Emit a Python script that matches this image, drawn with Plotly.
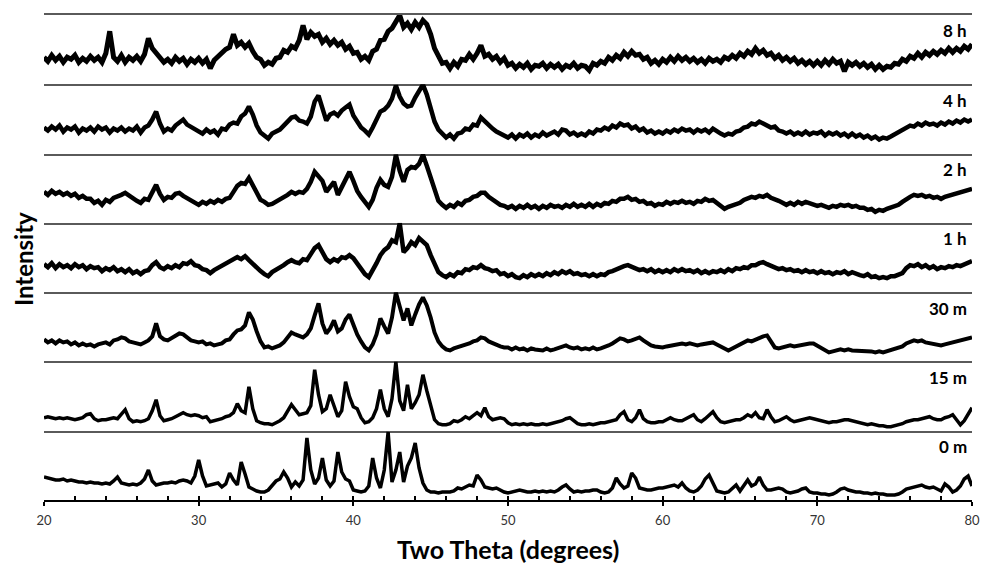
import plotly.graph_objects as go
from plotly.subplots import make_subplots

# x grid: 2-theta in degrees, 0.25 deg step from 20 to 80
two_theta = [20 + 0.25 * k for k in range(241)]

# intensities (arbitrary units, each panel 0..69.3)
i_8h = [27, 23, 29, 24, 28, 22, 27, 25, 29, 22, 26, 23, 28, 24, 27, 22, 31, 53, 27, 23,
        29, 22, 27, 24, 28, 23, 30, 46, 36, 31, 26, 22, 25, 21, 27, 23, 26, 20, 25, 22,
        26, 21, 25, 16, 24, 28, 31, 35, 37, 50, 39, 42, 37, 41, 33, 27, 25, 19, 22, 20,
        26, 27, 34, 32, 38, 36, 44, 59, 45, 52, 48, 50, 42, 46, 40, 44, 39, 42, 35, 38,
        31, 32, 25, 28, 24, 33, 35, 44, 45, 53, 56, 63, 69, 57, 61, 55, 62, 57, 64, 60,
        50, 36, 29, 21, 22, 16, 22, 18, 25, 24, 30, 25, 31, 39, 28, 30, 25, 28, 22, 26,
        19, 21, 16, 20, 17, 21, 15, 19, 18, 21, 16, 20, 17, 20, 15, 19, 17, 21, 16, 19,
        18, 14, 21, 19, 23, 21, 27, 24, 29, 26, 32, 28, 33, 29, 30, 25, 27, 21, 24, 20,
        25, 22, 27, 23, 28, 24, 27, 23, 26, 22, 25, 21, 26, 23, 25, 22, 27, 25, 29, 26,
        31, 28, 33, 30, 36, 31, 34, 29, 31, 26, 29, 24, 27, 23, 26, 21, 24, 20, 23, 19,
        23, 19, 24, 20, 25, 21, 23, 13, 22, 19, 22, 18, 21, 17, 20, 15, 19, 15, 18, 17,
        21, 20, 25, 23, 28, 26, 31, 27, 32, 29, 33, 30, 34, 31, 36, 32, 36, 33, 38, 35,
        40]

i_4h = [26, 23, 27, 24, 28, 22, 26, 24, 27, 21, 25, 23, 26, 22, 27, 24, 26, 21, 25, 23,
        26, 22, 25, 23, 27, 21, 26, 28, 34, 42, 30, 22, 25, 23, 28, 31, 34, 29, 27, 24,
        23, 20, 24, 21, 23, 19, 25, 24, 29, 31, 30, 37, 40, 47, 39, 28, 21, 18, 15, 20,
        22, 24, 28, 32, 36, 37, 33, 32, 30, 37, 52, 58, 45, 33, 39, 41, 38, 43, 46, 49,
        38, 31, 26, 23, 19, 26, 33, 42, 44, 48, 55, 68, 57, 50, 47, 48, 56, 63, 69, 59,
        44, 32, 24, 20, 16, 19, 15, 20, 21, 25, 24, 29, 28, 36, 32, 28, 25, 22, 20, 18,
        16, 19, 15, 19, 17, 20, 16, 19, 17, 21, 18, 20, 22, 19, 24, 23, 19, 21, 18, 20,
        18, 22, 20, 24, 23, 26, 24, 28, 26, 30, 28, 29, 25, 27, 23, 25, 21, 23, 20, 22,
        20, 23, 21, 24, 22, 25, 23, 24, 21, 24, 22, 24, 21, 25, 22, 20, 18, 20, 19, 22,
        23, 26, 27, 30, 29, 32, 30, 28, 26, 27, 23, 22, 20, 22, 19, 21, 19, 22, 19, 21,
        20, 22, 18, 21, 19, 21, 18, 20, 17, 20, 17, 19, 16, 18, 15, 17, 14, 16, 15, 17,
        19, 21, 24, 26, 28, 27, 30, 28, 31, 29, 30, 28, 31, 29, 32, 30, 33, 31, 34, 32,
        34]

i_2h = [31, 28, 32, 29, 31, 28, 30, 27, 29, 25, 27, 24, 24, 20, 22, 18, 23, 21, 25, 26,
        28, 30, 27, 25, 22, 20, 24, 23, 31, 38, 29, 23, 26, 25, 29, 30, 27, 25, 22, 20,
        18, 21, 19, 22, 20, 23, 21, 24, 25, 31, 37, 40, 39, 45, 38, 29, 23, 21, 18, 19,
        21, 23, 26, 28, 31, 29, 31, 30, 34, 41, 51, 47, 42, 31, 36, 41, 28, 36, 45, 51,
        42, 32, 26, 20, 16, 23, 35, 43, 38, 36, 46, 68, 52, 41, 53, 56, 55, 59, 68, 57,
        46, 32, 22, 18, 15, 18, 16, 20, 18, 22, 23, 26, 27, 30, 30, 26, 23, 21, 18, 17,
        15, 17, 14, 17, 15, 18, 15, 17, 14, 17, 15, 18, 16, 17, 15, 18, 16, 19, 16, 18,
        16, 19, 16, 19, 17, 20, 19, 22, 21, 24, 24, 26, 23, 24, 21, 22, 19, 20, 17, 19,
        18, 21, 19, 21, 20, 22, 20, 21, 19, 22, 21, 24, 22, 23, 20, 18, 14, 16, 17, 19,
        20, 23, 25, 26, 25, 27, 26, 28, 25, 24, 22, 20, 18, 20, 18, 21, 19, 21, 20, 19,
        17, 18, 16, 15, 17, 16, 18, 17, 18, 16, 17, 15, 15, 13, 14, 11, 13, 12, 14, 15,
        16, 18, 21, 24, 26, 28, 27, 28, 26, 27, 25, 26, 24, 26, 27, 28, 29, 30, 31, 33,
        34]

i_1h = [28, 25, 29, 24, 28, 25, 27, 24, 28, 25, 27, 23, 26, 24, 25, 21, 24, 22, 25, 21,
        23, 20, 23, 19, 21, 18, 21, 22, 27, 30, 25, 23, 26, 24, 27, 25, 29, 28, 31, 27,
        26, 23, 22, 19, 22, 24, 26, 28, 30, 32, 35, 33, 36, 32, 28, 24, 21, 18, 16, 20,
        22, 25, 27, 30, 32, 30, 29, 33, 32, 38, 44, 47, 41, 33, 30, 33, 31, 35, 34, 37,
        34, 28, 23, 18, 15, 21, 29, 37, 42, 45, 52, 50, 69, 40, 44, 50, 47, 54, 51, 47,
        37, 27, 20, 17, 15, 18, 16, 20, 19, 23, 22, 25, 24, 27, 24, 23, 21, 22, 18, 19,
        16, 18, 15, 14, 17, 15, 18, 16, 18, 16, 19, 17, 20, 18, 21, 19, 21, 18, 19, 17,
        18, 16, 18, 16, 18, 17, 20, 21, 23, 24, 26, 27, 25, 24, 22, 23, 21, 23, 20, 22,
        20, 22, 20, 23, 21, 23, 21, 22, 20, 22, 19, 21, 19, 21, 20, 22, 20, 23, 21, 24,
        23, 25, 24, 27, 27, 29, 30, 28, 26, 25, 23, 24, 22, 23, 21, 22, 20, 22, 20, 21,
        19, 21, 19, 20, 18, 20, 19, 21, 18, 20, 18, 17, 16, 18, 15, 16, 14, 15, 14, 16,
        16, 18, 19, 24, 27, 26, 28, 25, 27, 24, 26, 23, 25, 24, 26, 25, 27, 26, 28, 29,
        31]

i_30m = [22, 19, 21, 18, 21, 19, 20, 17, 19, 16, 18, 16, 17, 15, 17, 18, 19, 17, 21, 22,
         24, 23, 20, 19, 18, 17, 19, 21, 25, 38, 25, 22, 21, 23, 25, 28, 27, 24, 21, 20,
         19, 20, 17, 18, 16, 17, 18, 21, 22, 27, 31, 32, 36, 49, 42, 30, 20, 14, 15, 13,
         14, 16, 19, 24, 29, 27, 25, 24, 27, 33, 46, 58, 38, 28, 33, 41, 30, 33, 42, 47,
         37, 27, 20, 14, 11, 17, 27, 43, 35, 28, 44, 69, 55, 41, 53, 36, 47, 57, 64, 56,
         44, 29, 20, 15, 12, 11, 13, 14, 15, 17, 18, 20, 21, 24, 23, 20, 18, 17, 15, 14,
         14, 12, 14, 12, 13, 11, 13, 12, 12, 11, 13, 11, 12, 13, 14, 16, 14, 13, 14, 12,
         13, 12, 14, 12, 13, 14, 16, 18, 20, 23, 22, 20, 21, 22, 24, 21, 18, 16, 15, 14,
         14, 15, 16, 17, 18, 18, 17, 18, 17, 16, 17, 18, 19, 19, 17, 15, 12, 11, 13, 15,
         17, 19, 21, 20, 22, 23, 25, 26, 20, 14, 13, 14, 15, 16, 15, 16, 17, 17, 18, 18,
         16, 14, 12, 9, 10, 11, 12, 11, 12, 11, 11, 10, 10, 11, 10, 9, 10, 9, 10, 11,
         12, 13, 15, 18, 20, 21, 20, 21, 19, 18, 17, 17, 16, 17, 18, 19, 20, 21, 22, 23,
         24]

i_15m = [13, 14, 13, 12, 13, 12, 13, 12, 11, 12, 13, 16, 17, 12, 10, 11, 11, 12, 13, 12,
         16, 21, 12, 9, 10, 9, 10, 12, 20, 31, 15, 10, 11, 12, 14, 16, 18, 16, 15, 16,
         15, 13, 14, 9, 10, 11, 12, 14, 15, 18, 27, 20, 18, 44, 22, 10, 8, 7, 7, 6,
         8, 10, 13, 19, 26, 21, 16, 17, 18, 25, 61, 36, 19, 22, 36, 25, 14, 20, 49, 34,
         24, 22, 13, 8, 9, 13, 22, 41, 22, 14, 32, 69, 30, 20, 46, 22, 28, 36, 56, 40,
         24, 11, 7, 6, 6, 7, 10, 9, 11, 14, 12, 15, 18, 15, 23, 14, 11, 12, 13, 12,
         8, 6, 7, 6, 7, 6, 7, 6, 6, 7, 6, 7, 8, 9, 10, 12, 13, 10, 7, 6,
         6, 7, 6, 7, 8, 8, 9, 10, 11, 16, 19, 11, 9, 13, 21, 12, 9, 8, 8, 9,
         9, 11, 13, 11, 10, 10, 12, 14, 16, 11, 9, 12, 15, 19, 13, 9, 8, 9, 10, 11,
         11, 13, 16, 14, 18, 13, 12, 21, 14, 9, 10, 12, 14, 11, 9, 10, 11, 12, 13, 12,
         11, 10, 9, 8, 9, 9, 10, 11, 11, 10, 9, 8, 7, 6, 7, 6, 5, 5, 4, 4,
         5, 6, 7, 9, 10, 11, 11, 12, 13, 14, 12, 11, 11, 13, 14, 16, 11, 6, 10, 16,
         23]

i_0m = [23, 22, 21, 20, 20, 21, 19, 20, 19, 18, 18, 17, 18, 17, 17, 16, 17, 16, 19, 23,
        17, 16, 15, 16, 15, 17, 21, 30, 19, 15, 16, 17, 17, 18, 17, 19, 20, 19, 17, 24,
        40, 24, 14, 15, 16, 17, 13, 16, 27, 20, 15, 38, 26, 13, 11, 9, 8, 8, 10, 14,
        19, 21, 28, 22, 13, 18, 14, 20, 62, 30, 16, 22, 42, 20, 14, 19, 48, 28, 21, 19,
        10, 9, 8, 9, 14, 42, 22, 12, 30, 68, 18, 30, 48, 18, 34, 42, 57, 32, 17, 10,
        8, 8, 7, 8, 8, 8, 9, 12, 11, 13, 15, 14, 25, 20, 13, 12, 11, 12, 10, 8,
        7, 8, 9, 10, 9, 8, 8, 9, 8, 9, 8, 9, 8, 10, 13, 15, 11, 8, 9, 8,
        9, 9, 10, 10, 8, 7, 8, 12, 22, 16, 12, 14, 27, 22, 12, 11, 10, 10, 11, 12,
        12, 13, 14, 15, 13, 17, 12, 9, 8, 10, 14, 21, 25, 16, 9, 8, 7, 8, 11, 15,
        9, 15, 20, 14, 16, 23, 15, 10, 10, 11, 12, 11, 8, 7, 8, 9, 11, 12, 8, 7,
        7, 6, 6, 5, 6, 8, 11, 12, 10, 9, 8, 8, 7, 7, 6, 7, 6, 6, 5, 5,
        5, 6, 8, 11, 12, 13, 14, 15, 13, 12, 13, 11, 9, 16, 13, 8, 10, 14, 21, 24,
        14]

labels = ["8 h", "4 h", "2 h", "1 h", "30 m", "15 m", "0 m"]
series = [i_8h, i_4h, i_2h, i_1h, i_30m, i_15m, i_0m]
line_widths = [5, 4.5, 4.5, 4.5, 4, 3.5, 3.5]
x_ticks = [20, 30, 40, 50, 60, 70, 80]

for s in series:
    assert len(s) == len(two_theta), len(s)

n = len(series)
fig = make_subplots(rows=n, cols=1, shared_xaxes=True, vertical_spacing=0)

for r, (lab, ys, lw) in enumerate(zip(labels, series, line_widths), start=1):
    fig.add_trace(go.Scatter(x=two_theta, y=ys, mode="lines",
                             line=dict(color="black", width=lw),
                             showlegend=False, hoverinfo="skip"), row=r, col=1)
    fig.update_yaxes(range=[0, 69.3], visible=False, fixedrange=True,
                     automargin=False, row=r, col=1)
    fig.update_xaxes(range=[20, 80], showline=True, linecolor="#5a5a5a", linewidth=1.5,
                     showgrid=False, zeroline=False, ticks="", showticklabels=False,
                     automargin=False, mirror=(r == 1), row=r, col=1)
    fig.add_annotation(text="<b>%s</b>" % lab, xref="x domain", yref="y domain",
                       x=0.997, y=1 - 16 / 69.3, xanchor="right", yanchor="middle",
                       showarrow=False, font=dict(family="Lato", size=17, color="black"),
                       row=r, col=1)

fig.update_xaxes(linecolor="black", linewidth=1.5, ticks="outside", ticklen=4,
                 tickcolor="black", tickwidth=1.5, tickvals=x_ticks,
                 showticklabels=True, ticklabelstandoff=4,
                 tickfont=dict(family="Lato", size=13, color="#333333"),
                 row=n, col=1)

# inside minor ticks on the bottom axis
fig.update_layout(xaxis8=dict(overlaying="x%d" % n, anchor="y%d" % n, range=[20, 80],
                              ticks="inside", ticklen=4, tickcolor="black", tickwidth=1.5,
                              tick0=20, dtick=2, showticklabels=False, showline=False,
                              showgrid=False, zeroline=False, side="bottom",
                              automargin=False))
fig.add_trace(go.Scatter(x=[20, 80], y=[-10, -10], mode="lines", xaxis="x8",
                         yaxis="y%d" % n, showlegend=False, hoverinfo="skip",
                         line=dict(color="rgba(0,0,0,0)")))

fig.add_annotation(text="<b>Intensity</b>", xref="paper", yref="paper",
                   x=-0.0215, y=0.497, xanchor="center", yanchor="middle",
                   textangle=-90, showarrow=False,
                   font=dict(family="Lato", size=24, color="black"))
fig.add_annotation(text="<b>Two Theta (degrees)</b>", xref="paper", yref="paper",
                   x=0.5, y=-0.101, xanchor="center", yanchor="middle",
                   showarrow=False, font=dict(family="Lato", size=25, color="black"))

fig.update_layout(width=981, height=563, margin=dict(l=44, r=9, t=15, b=63),
                  paper_bgcolor="white", plot_bgcolor="white")

fig.write_html("out.html")
